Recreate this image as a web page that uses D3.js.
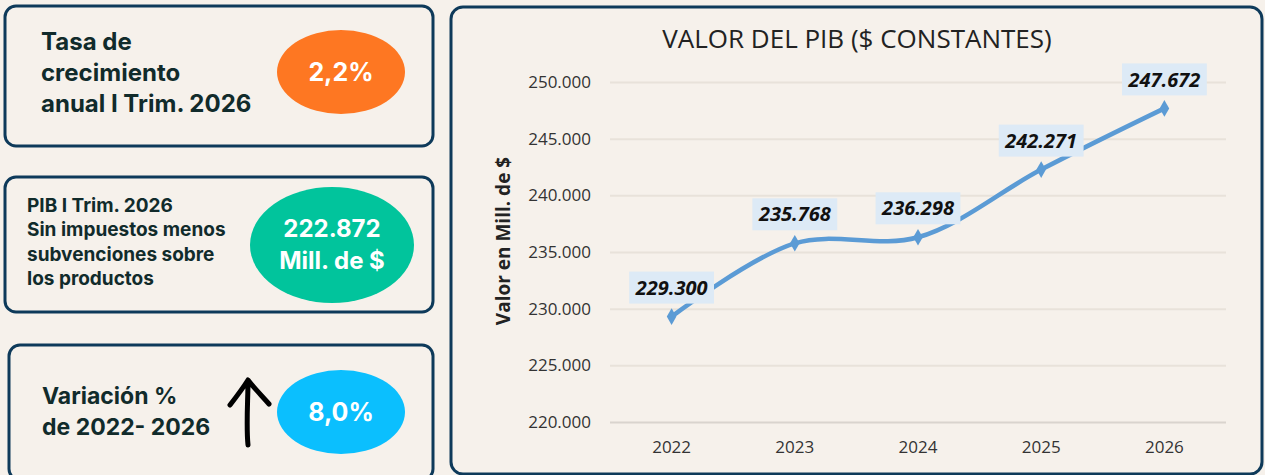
<!DOCTYPE html>
<html>
<head>
<meta charset="utf-8">
<script src="https://cdn.jsdelivr.net/npm/d3@7"></script>
<style>
  body { margin: 0; background: #f6f1eb; }
  svg { display: block; }
</style>
</head>
<body>
<div id="chart-area"></div>
<script>
// data
var years = ["2022", "2023", "2024", "2025", "2026"];
var pibValues = [229300, 235768, 236298, 242271, 247672];
var yTicks = [220000, 225000, 230000, 235000, 240000, 245000, 250000];

var kpiLabels = [
  ["Tasa de", "crecimiento", "anual I Trim. 2026"],
  ["PIB I Trim. 2026", "Sin impuestos menos", "subvenciones sobre", "los productos"],
  ["Variación %", "de 2022- 2026"]
];
var kpiValues = [["2,2%"], ["222.872", "Mill. de $"], ["8,0%"]];
var kpiColors = ["#fe7722", "#01c49c", "#0bbffe"];

var width = 1265;
var height = 475;
var navy = "#0e3a5a";
var ink = "#112b2b";

var locale = d3.formatLocale({ decimal: ",", thousands: ".", grouping: [3], currency: ["$", ""] });
var fmt = locale.format(",.0f");

var svg = d3.select("#chart-area")
  .append("svg")
  .attr("width", width)
  .attr("height", height);

// ---- KPI panels (left) ----
var panels = [
  { x: 5, y: 6, w: 428, h: 140, textX: 41, lineY: [50, 81, 112], size: 24, ell: { cx: 341, cy: 72, rx: 64, ry: 42 }, valY: [81], valSize: 25 },
  { x: 5, y: 177, w: 428, h: 135, textX: 27, lineY: [212, 236, 261, 285], size: 19, ell: { cx: 332, cy: 245, rx: 82, ry: 58 }, valY: [237, 269], valSize: 24 },
  { x: 9, y: 345, w: 424, h: 135, textX: 42, lineY: [404, 435], size: 23, ell: { cx: 341, cy: 412, rx: 64, ry: 42 }, valY: [421], valSize: 25 }
];

panels.forEach((p, i) => {
  svg.append("rect")
    .attr("x", p.x).attr("y", p.y)
    .attr("width", p.w).attr("height", p.h)
    .attr("rx", 11)
    .attr("fill", "none")
    .attr("stroke", navy)
    .attr("stroke-width", 3);

  svg.append("g").selectAll("text")
    .data(kpiLabels[i])
    .enter().append("text")
    .attr("x", p.textX)
    .attr("y", (d, j) => p.lineY[j])
    .attr("font-family", "Inter, 'Open Sans', sans-serif")
    .attr("font-weight", 700)
    .attr("font-size", p.size + "px")
    .style("fill", ink)
    .text(d => d);

  svg.append("ellipse")
    .attr("cx", p.ell.cx).attr("cy", p.ell.cy)
    .attr("rx", p.ell.rx).attr("ry", p.ell.ry)
    .attr("fill", kpiColors[i]);

  svg.append("g").selectAll("text")
    .data(kpiValues[i])
    .enter().append("text")
    .attr("x", p.ell.cx)
    .attr("y", (d, j) => p.valY[j])
    .attr("text-anchor", "middle")
    .attr("font-family", "Inter, 'Open Sans', sans-serif")
    .attr("font-weight", 700)
    .attr("font-size", p.valSize + "px")
    .style("fill", "white")
    .text(d => d);
});

// hand drawn arrow
svg.append("path")
  .attr("d", "M248,445 C246,425 248,400 248,381 M230,405 C237,396 243,388 248,380 C254,388 262,396 269,404")
  .attr("fill", "none")
  .attr("stroke", "#000")
  .attr("stroke-width", 5)
  .attr("stroke-linecap", "round")
  .attr("stroke-linejoin", "round");

// ---- chart panel ----
svg.append("rect")
  .attr("x", 451).attr("y", 7)
  .attr("width", 811).attr("height", 467)
  .attr("rx", 12)
  .attr("fill", "none")
  .attr("stroke", navy)
  .attr("stroke-width", 3);

var plot = { left: 610, right: 1226, top: 82, bottom: 422 };

var x = d3.scaleBand()
  .domain(years)
  .range([plot.left, plot.right]);

var y = d3.scaleLinear()
  .domain([220000, 250000])
  .range([plot.bottom, plot.top]);

var yAxisG = svg.append("g")
  .attr("class", "y axis")
  .attr("transform", "translate(" + plot.left + ",0)")
  .call(d3.axisLeft(y).tickValues(yTicks).tickFormat(fmt)
    .tickSizeInner(-(plot.right - plot.left)).tickSizeOuter(0).tickPadding(19));
yAxisG.select(".domain").remove();
yAxisG.selectAll(".tick line")
  .style("stroke", d => d === 220000 ? "#d9d4ce" : "#e8e2da")
  .style("stroke-width", 2);
yAxisG.selectAll("text")
  .attr("font-family", "'Open Sans', sans-serif")
  .attr("font-size", "17px")
  .style("fill", "#333");

var xAxisG = svg.append("g")
  .attr("class", "x axis")
  .attr("transform", "translate(0," + plot.bottom + ")")
  .call(d3.axisBottom(x).tickSize(0).tickPadding(19));
xAxisG.select(".domain").remove();
xAxisG.selectAll("text")
  .attr("font-family", "'Open Sans', sans-serif")
  .attr("font-size", "17px")
  .style("fill", "#333");

svg.append("text")
  .attr("x", 857)
  .attr("y", 48)
  .attr("text-anchor", "middle")
  .attr("font-family", "'Open Sans', sans-serif")
  .attr("font-size", "26px")
  .style("fill", "#222")
  .text("VALOR DEL PIB ($ CONSTANTES)");

svg.append("text")
  .attr("transform", "translate(510,241) rotate(-90)")
  .attr("text-anchor", "middle")
  .attr("font-family", "'Open Sans', sans-serif")
  .attr("font-weight", 700)
  .attr("font-size", "19px")
  .style("fill", "#222")
  .text("Valor en Mill. de $");

var points = years.map((yr, i) => ({ year: yr, value: pibValues[i] }));
var cx = d => x(d.year) + x.bandwidth() / 2;

var line = d3.line()
  .x(cx)
  .y(d => y(d.value))
  .curve(d3.curveCatmullRom.alpha(0.5));

svg.append("path")
  .datum(points)
  .attr("d", line)
  .attr("fill", "none")
  .attr("stroke", "#5b9bd5")
  .attr("stroke-width", 4.5)
  .attr("stroke-linecap", "round");

svg.append("g").selectAll("path")
  .data(points)
  .enter().append("path")
  .attr("transform", d => "translate(" + cx(d) + "," + y(d.value) + ")")
  .attr("d", d3.symbol(d3.symbolDiamond).size(80))
  .attr("fill", "#5b9bd5");

// data labels
var labels = svg.append("g").selectAll("g")
  .data(points)
  .enter().append("g")
  .attr("transform", d => "translate(" + cx(d) + "," + (y(d.value) - 29) + ")");

var labelRects = labels.append("rect").attr("fill", "#ddeaf6");
var labelTexts = labels.append("text")
  .attr("text-anchor", "middle")
  .attr("dy", "0.36em")
  .attr("font-family", "'Open Sans', sans-serif")
  .attr("font-weight", 700)
  .attr("font-style", "italic")
  .attr("font-size", "20px")
  .style("fill", "#111")
  .text(d => fmt(d.value));

labelTexts.each(function () {
  var bb = this.getBBox();
  d3.select(this.previousSibling)
    .attr("x", -bb.width / 2 - 6)
    .attr("y", -16)
    .attr("width", bb.width + 12)
    .attr("height", 32);
});
</script>
</body>
</html>
